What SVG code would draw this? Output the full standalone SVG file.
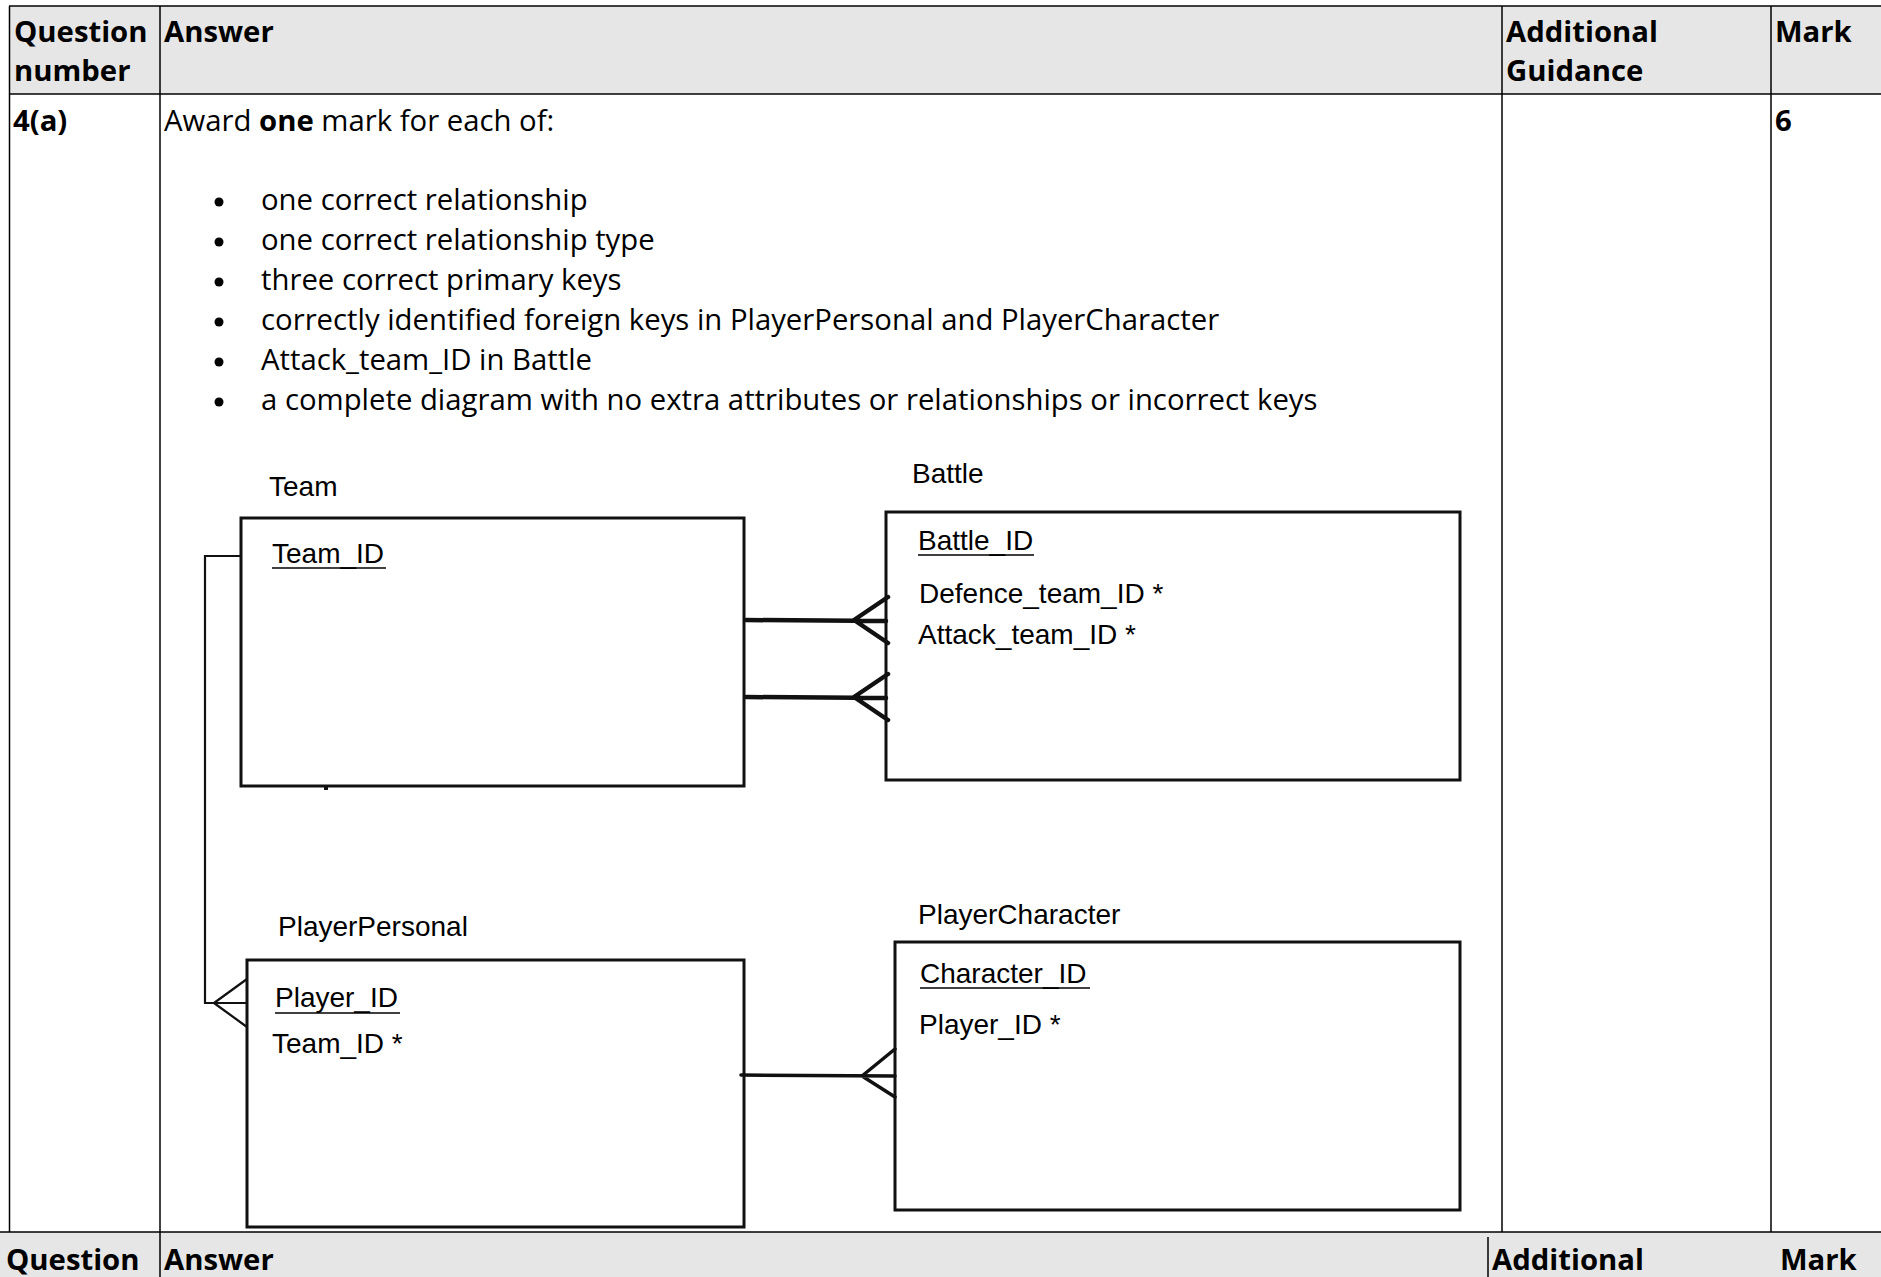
<svg xmlns="http://www.w3.org/2000/svg" width="1881" height="1277" viewBox="0 0 1881 1277">
<style>
.tb{font-family:"Open Sans","Liberation Sans",sans-serif;font-size:29.3px;fill:#000}
.b{font-weight:bold}
.grid{stroke:#000;stroke-width:1.5;fill:none}
.dg{font-family:"Liberation Sans",Arial,sans-serif;font-size:28px;fill:#000}
.box{fill:#fff;stroke:#111;stroke-width:3}
.ul{stroke:#000;stroke-width:1.6}
.thick{stroke:#111;stroke-width:4.5;fill:none;stroke-linecap:round}
.med{stroke:#111;stroke-width:3.5;fill:none;stroke-linecap:round}
.thin{stroke:#111;stroke-width:2.2;fill:none}
</style>
<rect width="1881" height="1277" fill="#fff"/>
<g id="table">
<rect x="9" y="6" width="1872" height="88" fill="#e6e6e6"/>
<rect x="0" y="1232" width="1881" height="45" fill="#e6e6e6"/>
<line class="grid" x1="9" y1="6" x2="1881" y2="6"/>
<line class="grid" x1="9" y1="94" x2="1881" y2="94"/>
<line class="grid" x1="0" y1="1232" x2="1881" y2="1232"/>
<line class="grid" x1="9.5" y1="6" x2="9.5" y2="1232"/>
<line class="grid" x1="160" y1="6" x2="160" y2="1277"/>
<line class="grid" x1="1502" y1="6" x2="1502" y2="1232"/>
<line class="grid" x1="1771" y1="6" x2="1771" y2="1232"/>
<line class="grid" x1="1488" y1="1237" x2="1488" y2="1277"/>
<text class="tb b" x="14" y="42">Question</text>
<text class="tb b" x="14" y="81">number</text>
<text class="tb b" x="164" y="42">Answer</text>
<text class="tb b" x="1506" y="42">Additional</text>
<text class="tb b" x="1506" y="81">Guidance</text>
<text class="tb b" x="1775" y="42">Mark</text>
<text class="tb b" x="13" y="131">4(a)</text>
<text class="tb" x="164" y="131">Award <tspan class="b">one</tspan> mark for each of:</text>
<text class="tb b" x="1775" y="131">6</text>
<g fill="#000">
<circle cx="219" cy="202" r="4.5"/>
<circle cx="219" cy="242" r="4.5"/>
<circle cx="219" cy="282" r="4.5"/>
<circle cx="219" cy="322" r="4.5"/>
<circle cx="219" cy="362" r="4.5"/>
<circle cx="219" cy="402" r="4.5"/>
</g>
<text class="tb" x="261" y="210">one correct relationship</text>
<text class="tb" x="261" y="250">one correct relationship type</text>
<text class="tb" x="261" y="290">three correct primary keys</text>
<text class="tb" x="261" y="330">correctly identified foreign keys in PlayerPersonal and PlayerCharacter</text>
<text class="tb" x="261" y="370">Attack_team_ID in Battle</text>
<text class="tb" x="261" y="410">a complete diagram with no extra attributes or relationships or incorrect keys</text>
<text class="tb b" x="6" y="1270">Question</text>
<text class="tb b" x="164" y="1270">Answer</text>
<text class="tb b" x="1492" y="1270">Additional</text>
<text class="tb b" x="1780" y="1270">Mark</text>
</g>
<g id="team">
<text class="dg" x="269" y="496">Team</text>
<rect class="box" x="241" y="518" width="503" height="268"/>
<text class="dg" x="272" y="563">Team_ID</text>
<line class="ul" x1="272" y1="568" x2="386" y2="568"/>
<rect x="324" y="786" width="4" height="4" fill="#111"/>
</g>
<g id="battle">
<text class="dg" x="912" y="483">Battle</text>
<rect class="box" x="886" y="512" width="574" height="268"/>
<text class="dg" x="918" y="550">Battle_ID</text>
<line class="ul" x1="918" y1="555" x2="1034" y2="555"/>
<text class="dg" x="919" y="603" font-size="27.5">Defence_team_ID *</text>
<text class="dg" x="918" y="644">Attack_team_ID *</text>
</g>
<g id="playerPersonal">
<text class="dg" x="278" y="936">PlayerPersonal</text>
<rect class="box" x="247" y="960" width="497" height="267"/>
<text class="dg" x="275" y="1007">Player_ID</text>
<line class="ul" x1="275" y1="1013" x2="400" y2="1013"/>
<text class="dg" x="272" y="1053">Team_ID *</text>
</g>
<g id="playerCharacter">
<text class="dg" x="918" y="924">PlayerCharacter</text>
<rect class="box" x="895" y="942" width="565" height="268"/>
<text class="dg" x="920" y="983">Character_ID</text>
<line class="ul" x1="920" y1="988" x2="1090" y2="988"/>
<text class="dg" x="919" y="1034">Player_ID *</text>
</g>
<g id="connectors">
<path class="thick" d="M746 620 L886 621 M854 620 L888 597 M854 620 L888 643"/>
<path class="thick" d="M746 697 L886 698 M854 697 L888 674 M854 697 L888 720"/>
<path class="thin" d="M241 556 L205 556 L205 1003 L247 1003 M214 1003 L247 979 M214 1003 L247 1027"/>
<path class="med" d="M741 1075 L895 1076 M862 1076 L895 1049 M862 1076 L895 1097"/>
</g>
</svg>
